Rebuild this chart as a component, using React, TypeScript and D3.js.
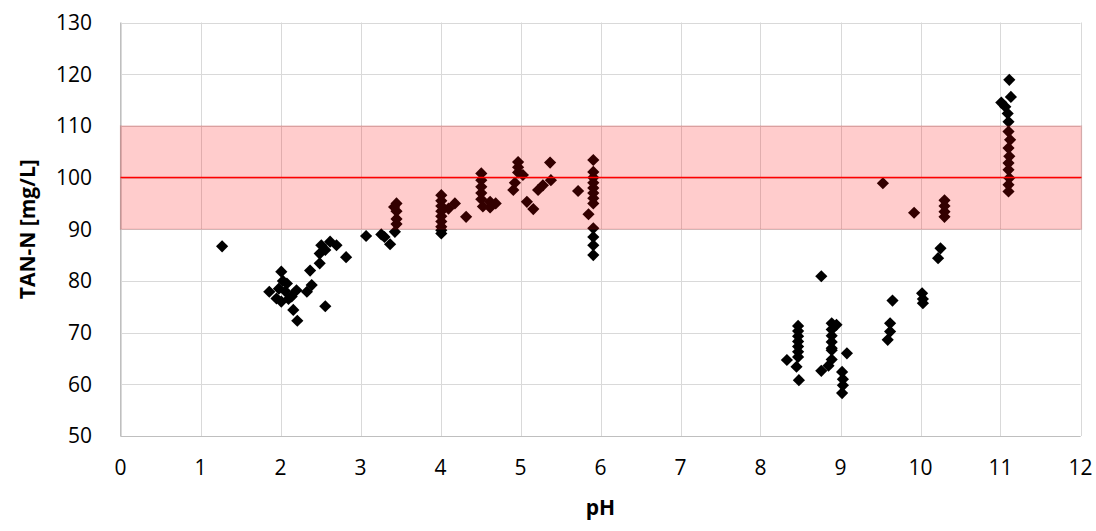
import React from "react";
import * as d3 from "d3";

const phValues: number[] = [
  1.27, 1.86, 1.95, 1.98, 2.01, 2.01, 2.03, 2.06, 2.08, 2.10, 2.14, 2.16, 2.20, 2.21, 2.33, 2.37, 2.39, 2.49, 2.49, 2.51, 2.56, 2.56, 2.62, 2.70, 2.82,
  3.07, 3.26, 3.30, 3.37, 3.43, 3.45, 3.45, 3.45, 3.45, 3.42,
  4.01, 4.01, 4.01, 4.01, 4.01, 4.01, 4.01, 4.01, 4.01, 4.10, 4.18, 4.32, 4.51, 4.51, 4.51, 4.51, 4.51, 4.53, 4.62, 4.69, 4.62,
  4.91, 4.93, 4.97, 4.97, 4.97, 5.03, 5.08, 5.16, 5.22, 5.28, 5.37, 5.38, 5.72, 5.85,
  5.91, 5.91, 5.91, 5.91, 5.91, 5.91, 5.91, 5.91, 5.91, 5.91, 5.91, 5.91,
  8.33, 8.47, 8.47, 8.47, 8.47, 8.47, 8.47, 8.47, 8.45, 8.48, 8.76, 8.76, 8.85,
  8.89, 8.89, 8.89, 8.89, 8.89, 8.89, 8.89, 8.95, 9.08, 9.02, 9.03, 9.03, 9.02,
  9.53, 9.59, 9.62, 9.62, 9.65, 9.92, 10.02, 10.03, 10.03, 10.22, 10.25, 10.30, 10.30, 10.30, 10.30,
  11.11, 11.13, 11.01, 11.06, 11.09, 11.10, 11.10, 11.12, 11.10, 11.11, 11.10, 11.10, 11.11, 11.10, 11.10,
];

const tanValues: number[] = [
  86.7, 77.9, 76.6, 78.5, 81.8, 76.0, 80.0, 78.0, 79.5, 76.5, 77.0, 74.4, 78.2, 72.3, 77.9, 82.0, 79.2, 83.4, 85.3, 86.9, 86.0, 75.1, 87.6, 86.9, 84.6,
  88.7, 89.0, 88.5, 87.1, 89.5, 91.0, 92.0, 93.5, 95.0, 94.3,
  96.6, 95.5, 94.5, 93.5, 92.5, 91.5, 90.5, 89.8, 89.2, 94.0, 95.0, 92.4, 100.8, 99.5, 98.2, 97.0, 95.8, 94.4, 95.3, 95.0, 94.2,
  97.6, 99.0, 103.0, 102.0, 101.0, 100.5, 95.3, 93.9, 97.6, 98.5, 102.9, 99.5, 97.4, 92.9,
  103.4, 101.1, 100.0, 99.0, 98.0, 97.0, 96.0, 95.0, 90.2, 88.5, 86.9, 85.0,
  64.7, 71.3, 70.3, 69.3, 68.3, 67.3, 66.3, 65.3, 63.4, 60.8, 80.9, 62.6, 63.6,
  71.8, 70.6, 69.4, 68.2, 67.0, 66.6, 64.8, 71.5, 66.0, 62.4, 61.0, 59.8, 58.3,
  98.9, 68.6, 70.2, 71.8, 76.2, 93.2, 77.6, 76.5, 75.7, 84.4, 86.3, 95.6, 94.5, 93.4, 92.4,
  118.9, 115.6, 114.5, 113.7, 112.4, 110.8, 108.9, 107.3, 105.7, 104.1, 102.8, 101.5, 99.9, 98.6, 97.3,
];

const xTicks: number[] = [0, 1, 2, 3, 4, 5, 6, 7, 8, 9, 10, 11, 12];
const yTicks: number[] = [50, 60, 70, 80, 90, 100, 110, 120, 130];
const bandRange: number[] = [90, 110];
const referenceValue = 100;
const xTitle = "pH";
const yTitle = "TAN-N [mg/L]";

const W = 1096;
const H = 531;
const left = 120.5;
const right = 1080.5;
const top = 22.5;
const bottom = 436;
const font = "'Open Sans', 'Noto Sans', sans-serif";

export default function App() {
  const x = d3.scaleLinear().domain([0, 12]).range([left, right]);
  const y = d3.scaleLinear().domain([50, 130]).range([bottom, top]);
  const marker = d3.symbol(d3.symbolSquare, 74)() as string;
  const points = phValues.map((p, i) => ({ p, v: tanValues[i] }));

  return (
    <svg
      width={W}
      height={H}
      style={{ position: "absolute", left: 0, top: 0, background: "#fff" }}
    >
      <rect x={0} y={0} width={W} height={H} fill="#fff" />
      {yTicks.map((t) => (
        <line key={"gy" + t} x1={left} x2={right} y1={Math.round(y(t)) + 0.5} y2={Math.round(y(t)) + 0.5} stroke="#d9d9d9" strokeWidth={1} />
      ))}
      {xTicks.map((t) => (
        <line key={"gx" + t} x1={Math.round(x(t)) + 0.5} x2={Math.round(x(t)) + 0.5} y1={top} y2={bottom} stroke="#d9d9d9" strokeWidth={1} />
      ))}
      <line x1={left} x2={left} y1={top} y2={bottom} stroke="#bfbfbf" strokeWidth={1} />
      <line x1={left} x2={right} y1={Math.round(bottom) + 0.5} y2={Math.round(bottom) + 0.5} stroke="#bfbfbf" strokeWidth={1} />
      {points.map((d, i) => (
        <path key={"pt" + i} d={marker} transform={`translate(${x(d.p)},${y(d.v)}) rotate(45)`} fill="#000" />
      ))}
      <rect
        x={left}
        y={y(bandRange[1])}
        width={right - left + 1}
        height={y(bandRange[0]) - y(bandRange[1])}
        fill="rgba(255,0,0,0.2)"
        stroke="rgba(160,0,0,0.12)"
        strokeWidth={1.5}
      />
      <line x1={left} x2={right + 1} y1={y(referenceValue)} y2={y(referenceValue)} stroke="#ff0000" strokeWidth={1.5} />
      {yTicks.map((t) => (
        <text key={"ly" + t} x={92} y={y(t)} dy="0.35em" textAnchor="end" fontFamily={font} fontSize="21px" fill="#000">
          {t}
        </text>
      ))}
      {xTicks.map((t) => (
        <text key={"lx" + t} x={x(t)} y={468} dy="0.35em" textAnchor="middle" fontFamily={font} fontSize="21px" fill="#000">
          {t}
        </text>
      ))}
      <text x={(left + right) / 2} y={508} dy="0.35em" textAnchor="middle" fontFamily={font} fontSize="21px" fontWeight="bold" fill="#000">
        {xTitle}
      </text>
      <text
        transform={`translate(28,${(top + bottom) / 2}) rotate(-90)`}
        dy="0.35em"
        textAnchor="middle"
        fontFamily={font}
        fontSize="21px"
        fontWeight="bold"
        fill="#000"
      >
        {yTitle}
      </text>
    </svg>
  );
}
